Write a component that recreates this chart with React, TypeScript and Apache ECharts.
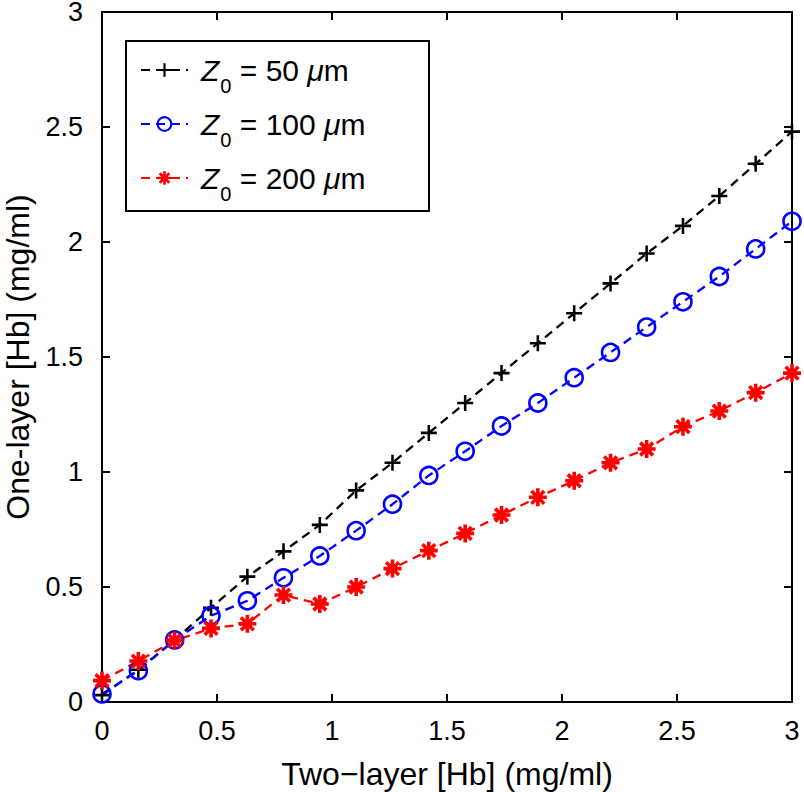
import React, { useEffect, useRef } from "react";
import * as echarts from "echarts";

const xValues = [0, 0.158, 0.316, 0.474, 0.632, 0.789, 0.947, 1.105, 1.263, 1.421, 1.579, 1.737, 1.895, 2.053, 2.211, 2.368, 2.526, 2.684, 2.842, 3.0];
const z50 = [0.03, 0.14, 0.27, 0.41, 0.545, 0.655, 0.77, 0.92, 1.04, 1.17, 1.3, 1.43, 1.56, 1.69, 1.82, 1.95, 2.07, 2.2, 2.34, 2.48];
const z100 = [0.035, 0.136, 0.27, 0.375, 0.44, 0.54, 0.635, 0.745, 0.86, 0.985, 1.09, 1.2, 1.3, 1.41, 1.52, 1.63, 1.74, 1.85, 1.97, 2.09];
const z200 = [0.093, 0.178, 0.267, 0.32, 0.34, 0.465, 0.426, 0.5, 0.58, 0.658, 0.733, 0.813, 0.89, 0.962, 1.04, 1.1, 1.197, 1.265, 1.345, 1.43];
const seriesNames = ["Z0 = 50 μm", "Z0 = 100 μm", "Z0 = 200 μm"];
const legendValues = ["50", "100", "200"];
const xTitle = "Two\u2212layer [Hb] (mg/ml)";
const yTitle = "One-layer [Hb] (mg/ml)";

const FONT = "'Liberation Sans', Arial, Helvetica, sans-serif";
const PLUS = "path://M42,0L58,0L58,42L100,42L100,58L58,58L58,100L42,100L42,58L0,58L0,42L42,42Z";
const STAR =
  "path://M40,0L60,0L60,40L100,40L100,60L60,60L60,100L40,100L40,60L0,60L0,40L40,40Z" +
  "M21.7,7.5L92.5,78.3L78.3,92.5L7.5,21.7Z" +
  "M7.5,78.3L78.3,7.5L92.5,21.7L21.7,92.5Z";

export default function App() {
  const ref = useRef<HTMLDivElement>(null);
  useEffect(() => {
    if (!ref.current) return;
    const chart = echarts.init(ref.current, undefined, { renderer: "svg" });
    const pts = (ys: number[]) => xValues.map((x, i) => [x, ys[i]]);
    const axisCommon = {
      type: "value" as const,
      min: 0,
      max: 3,
      interval: 0.5,
      splitLine: { show: false },
      axisLine: { show: true, onZero: false, lineStyle: { color: "#000", width: 2 } },
      axisTick: { show: true, inside: true, length: 8, lineStyle: { color: "#000", width: 2 } },
    };
    const labelStyle = { color: "#000", fontSize: 27, fontFamily: FONT, lineHeight: 22 };
    const dash = { type: [9, 6] as number[], width: 2.3 };
    const option: any = {
      animation: false,
      backgroundColor: "#fff",
      grid: { left: 102, right: 12, top: 12, bottom: 90, containLabel: false, outerBoundsMode: "none" },
      xAxis: [
        {
          ...axisCommon,
          position: "bottom",
          axisLabel: { ...labelStyle, margin: 18 },
          name: xTitle,
          nameLocation: "middle",
          nameGap: 56,
          nameTextStyle: { color: "#000", fontSize: 32, fontFamily: FONT, lineHeight: 32 },
        },
        { ...axisCommon, position: "top", axisLabel: { show: false } },
      ],
      yAxis: [
        {
          ...axisCommon,
          position: "left",
          axisLabel: { ...labelStyle, margin: 19 },
          name: yTitle,
          nameLocation: "middle",
          nameGap: 55,
          nameTextStyle: { color: "#000", fontSize: 32, fontFamily: FONT, lineHeight: 34 },
        },
        { ...axisCommon, position: "right", axisLabel: { show: false } },
      ],
      graphic: [
        {
          type: "rect",
          z: 3,
          shape: { x: 126, y: 41, width: 303, height: 170 },
          style: { fill: "#fff", stroke: "#000", lineWidth: 2 },
        },
      ],
      legend: {
        z: 6,
        orient: "vertical",
        left: 140,
        top: 44,
        padding: 0,
        itemGap: 2,
        itemWidth: 47,
        itemHeight: 17,
        data: seriesNames,
        formatter: (name: string) => {
          const i = seriesNames.indexOf(name);
          return `{z|Z}{s|0}{t| = ${legendValues[i]} }{u|μ}{t|m}`;
        },
        textStyle: {
          color: "#000",
          fontFamily: FONT,
          fontSize: 29,
          rich: {
            z: { fontSize: 30, fontStyle: "italic", fontFamily: FONT, color: "#000", padding: [0, 0, 0, 8], lineHeight: 32 },
            s: { fontSize: 20, fontFamily: FONT, color: "#000", padding: [32, 0, 0, 1], lineHeight: 20 },
            t: { fontSize: 30, fontFamily: FONT, color: "#000", lineHeight: 32 },
            u: { fontSize: 30, fontStyle: "italic", fontFamily: FONT, color: "#000", lineHeight: 32 },
          },
        },
      },
      series: [
        {
          name: seriesNames[0],
          type: "line",
          data: pts(z50),
          symbol: PLUS,
          symbolSize: 16,
          showAllSymbol: true,
          lineStyle: { ...dash, color: "#000" },
          itemStyle: { color: "#000", borderWidth: 0 },
        },
        {
          name: seriesNames[1],
          type: "line",
          data: pts(z100),
          symbol: "circle",
          symbolSize: 17,
          showAllSymbol: true,
          lineStyle: { ...dash, color: "#0000ff" },
          itemStyle: { color: "rgba(0,0,0,0)", borderColor: "#0000ff", borderWidth: 2.6 },
        },
        {
          name: seriesNames[2],
          type: "line",
          data: pts(z200),
          symbol: STAR,
          symbolSize: 18,
          showAllSymbol: true,
          lineStyle: { ...dash, color: "#ff0000" },
          itemStyle: { color: "#ff0000", borderWidth: 0 },
        },
      ],
    };
    chart.setOption(option);
    return () => chart.dispose();
  }, []);
  return (
    <div
      ref={ref}
      style={{ position: "fixed", left: 0, top: 0, width: 804, height: 792, background: "#fff" }}
    />
  );
}
